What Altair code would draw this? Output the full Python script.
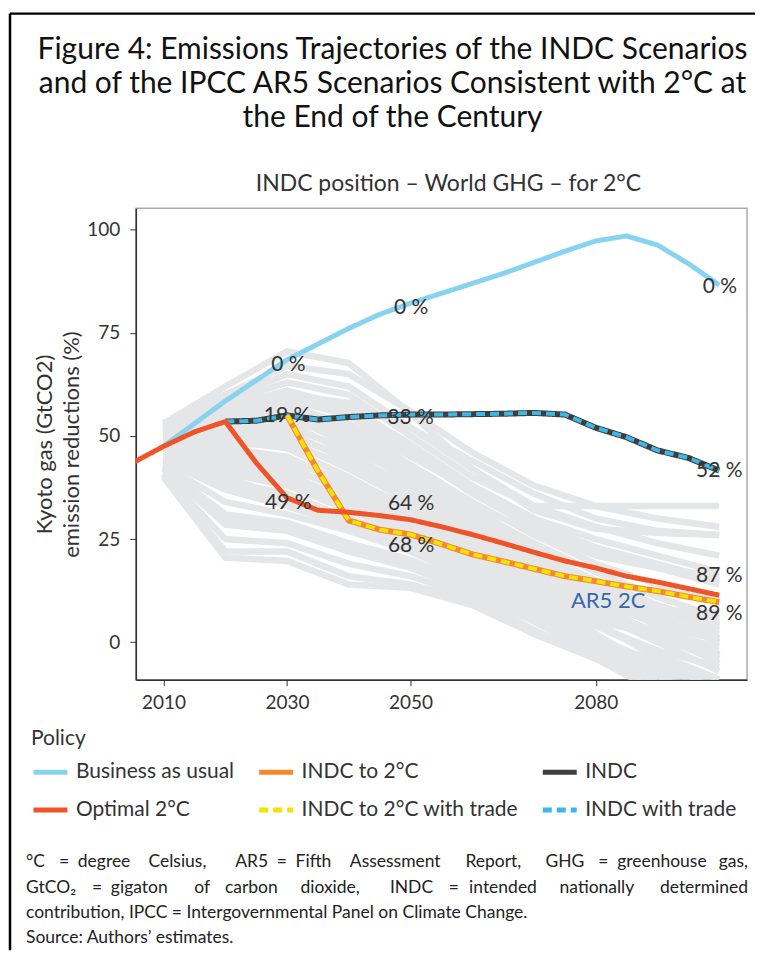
import altair as alt
import pandas as pd

# ---------------- data ----------------
policy_order = ["Business as usual", "INDC to 2°C", "INDC",
                "Optimal 2°C", "INDC to 2°C with trade", "INDC with trade"]
policy_colors = ["#88D3EF", "#F6882E", "#3E3E3E", "#EE5428", "#F2E400", "#3DB8E6"]
policy_dash = [[1, 0], [1, 0], [1, 0], [1, 0], [9, 5], [9, 5]]

bau_years = list(range(2010, 2101, 5))
bau_vals = [47.5, 53, 58.5, 63.5, 68.5, 72.3, 76.1, 79.5, 82.2, 84.6, 87, 89.4,
            92.1, 94.8, 97.3, 98.5, 96.3, 91.8, 86.6]

opt_years = list(range(2005, 2101, 5))
opt_vals = [43.5, 47.5, 51, 53.5, 43.5, 35, 32, 31.5, 30.7, 29.7, 28, 26.1, 24,
            21.8, 19.7, 18, 16, 14.6, 13, 11.4]

indc_years = list(range(2020, 2101, 5))
indc_vals = [53.5, 53.7, 55, 54, 54.6, 55, 55.2, 55.2, 55.3, 55.4, 55.6, 55.2,
             52, 49.7, 46.5, 44.7, 41.6]

indc2_years = list(range(2030, 2101, 5))
indc2_vals = [55, 41.5, 29.5, 27.3, 26.1, 23.8, 21.3, 19.6, 17.8, 16.0, 14.8,
              13.5, 12.4, 11.0, 9.7]

# AR5 2C scenarios (grey band), values at 2010, 2020, ..., 2100
ar5_years = list(range(2010, 2101, 10))
ar5_scenarios = [
    [53, 62, 70.5, 67.7, 55.5, 42, 33, 33, 33, 33],
    [52.5, 60, 67, 65, 56, 46, 38, 33, 30, 28],
    [52, 59, 65, 62, 52, 44, 36, 30, 27, 26],
    [51.5, 58, 63, 60, 50, 40, 33, 28, 24, 21],
    [51, 57, 61, 57, 48, 38, 30, 25, 21, 17],
    [50.5, 56, 59, 55, 46, 36, 28, 22, 18, 14],
    [50, 55, 58, 52, 43, 34, 26, 19, 14, 10],
    [49.5, 54, 56, 50, 41, 32, 24, 17, 11, 6],
    [49, 53, 55, 48, 39, 30, 21, 13, 6, 0],
    [48.5, 52, 53, 46, 37, 28, 19, 11, 4, -3],
    [48, 51, 51, 44, 36, 27, 17, 8, 0, -7],
    [47.5, 50, 49, 42, 34, 25, 15, 5, -4, -12],
    [47, 49, 47, 40, 32, 24, 17, 11, 7, 4],
    [46.5, 47, 45, 38, 31, 22, 13, 4, -3, -9],
    [46, 45, 43, 36, 29, 21, 12, 2, -7, -15],
    [45.5, 43, 41, 34, 28, 20, 14, 9, 5, 2],
    [45, 41, 38, 32, 26, 18, 10, 1, -6, -12],
    [44.5, 39, 36, 30, 25, 17, 9, 0, -8, -16],
    [44, 37, 33, 28, 23, 16, 8, -1, -10, -18],
    [43, 34, 31, 27, 22, 15, 7, -2, -9, -14],
    [42.5, 31, 29, 24, 20, 14, 9, 5, 2, -1],
    [42, 28.5, 27, 22, 18, 12, 5, -3, -11, -19],
    [41, 25, 24, 19, 16, 11, 3, -4, -10, -15],
    [40.5, 22, 22, 16, 14, 10, 2, -4, -12, -20],
    [40, 20.5, 19.7, 14, 13.2, 9, 2, -3.5, -12, -20],
    [51, 58, 60, 58, 52, 42, 32, 27.5, 26.5, 26],
    [49, 54, 57, 53, 45, 37, 29, 23, 19, 15],
    [47, 50, 52, 47, 40, 31, 22, 15, 9, 4],
    [46, 48, 48, 43, 35, 26, 18, 12, 8, 5],
    [45, 44, 42, 37, 30, 23, 16, 10, 5, 1],
    [44, 42, 39, 33, 27, 20, 12, 4, -2, -6],
    [43.5, 40, 35, 29, 24, 18, 11, 6, 3, 1],
    [50, 56, 60, 56, 47, 37, 27, 21, 18, 16],
    [48, 52, 54, 49, 40, 30, 20, 12, 7, 3],
    [47, 49, 50, 45, 38, 29, 19, 9, 2, -5],
    [45, 43, 40, 35, 29, 22, 14, 7, 1, -4],
    [44, 38, 34, 29, 25, 19, 13, 7, 1, -3],
    [42, 30, 28, 23, 19, 13, 6, 1, -5, -10],
    [48.5, 53, 56, 51, 42, 33, 23, 14, 8, 7],
    [46, 46, 44, 39, 33, 25, 16, 7, 0, -2],
]

label_texts = ["0 %", "0 %", "0 %", "19 %", "33 %", "52 %", "49 %", "64 %", "68 %", "87 %", "89 %"]
label_years = [2030.2, 2050.1, 2100.1, 2030, 2050, 2100, 2030.2, 2050.1, 2050.1, 2100, 2100]
label_vals = [67.3, 81.1, 86.2, 54.8, 54.3, 41.4, 33.8, 33.5, 23.3, 16.0, 6.8]

ar5_label = ["AR5 2C"]
ar5_label_year = [2082]
ar5_label_val = [10]

title_lines = ["Figure 4: Emissions Trajectories of the INDC Scenarios",
               "and of the IPCC AR5 Scenarios Consistent with 2°C at",
               "the End of the Century"]
subtitle = "INDC position – World GHG – for 2°C"
y_title = ["Kyoto gas (GtCO2)", "emission reductions (%)"]
x_ticks = [2010, 2030, 2050, 2080]
y_ticks = [0, 25, 50, 75, 100]
footnote = ["°C = degree Celsius, AR5 = Fifth Assessment Report, GHG = greenhouse gas,",
            "GtCO₂ = gigaton of carbon dioxide, INDC = intended nationally determined",
            "contribution, IPCC = Intergovernmental Panel on Climate Change.",
            "Source: Authors’ estimates."]

# ---------------- layout (page pixels, justified note lines) ----------------
FONT = "Lato"
W, H = 612, 472
PLOT_LEFT, PLOT_TOP = 135, 207
X_DOM = [2005.5, 2104.5]
Y_DOM = [-9.1, 105.2]

note_word_starts = [
    [25, 58, 76.9, 147.7, 234.6, 276.1, 295, 349.3, 465, 545.2, 598.1, 617],
    [25, 91.1, 110, 193.5, 224.2, 299.8, 389.4, 448.4, 468.7, 559.3],
]
note_right = 748
note_line_y = [862, 888, 913, 938]
note_left = 25

left_rows, right_rows = [], []
for li, line in enumerate(footnote):
    if li < 2:
        words = line.split(" ")
        for w, px in zip(words[:-1], note_word_starts[li]):
            left_rows.append({"t": w, "px": px, "py": note_line_y[li]})
        right_rows.append({"t": words[-1], "px": note_right, "py": note_line_y[li]})
    else:
        left_rows.append({"t": line, "px": note_left, "py": note_line_y[li]})
note_left_df = pd.DataFrame(left_rows)
note_right_df = pd.DataFrame(right_rows)

# ---------------- tables ----------------
rows = []
for name, ys, vs in [("Business as usual", bau_years, bau_vals),
                     ("Optimal 2°C", opt_years, opt_vals),
                     ("INDC", indc_years, indc_vals),
                     ("INDC with trade", indc_years, indc_vals),
                     ("INDC to 2°C", indc2_years, indc2_vals),
                     ("INDC to 2°C with trade", indc2_years, indc2_vals)]:
    for y, v in zip(ys, vs):
        rows.append({"policy": name, "year": y, "value": v})
pol_df = pd.DataFrame(rows)

grey_rows = []
for i, sc in enumerate(ar5_scenarios):
    for y, v in zip(ar5_years, sc):
        grey_rows.append({"scenario": i, "year": y, "value": v})
grey_df = pd.DataFrame(grey_rows)

lab_df = pd.DataFrame({"label": label_texts, "year": label_years, "value": label_vals})
ar5_df = pd.DataFrame({"label": ar5_label, "year": ar5_label_year, "value": ar5_label_val})

X = alt.X("year:Q", scale=alt.Scale(domain=X_DOM, nice=False, zero=False),
          axis=alt.Axis(values=x_ticks, format="d", title=None, labelPadding=8))
Y = alt.Y("value:Q", scale=alt.Scale(domain=Y_DOM, nice=False, zero=False),
          axis=alt.Axis(values=y_ticks, title=y_title, labelPadding=10, titlePadding=3))

LEG = dict(title="Policy", orient="none", legendX=-105, legendY=520,
           direction="horizontal", columns=3)
COLOR = alt.Color("policy:N", scale=alt.Scale(domain=policy_order, range=policy_colors),
                  legend=alt.Legend(**LEG))
DASH = alt.StrokeDash("policy:N", scale=alt.Scale(domain=policy_order, range=policy_dash),
                      legend=alt.Legend(**LEG))

grey = alt.Chart(grey_df).mark_line(color="#E5E6E7", strokeWidth=6.5, clip=True).encode(
    x=X, y=Y, detail="scenario:N")


def pline(name, width):
    return alt.Chart(pol_df).transform_filter(alt.datum.policy == name).mark_line(
        strokeWidth=width, clip=True).encode(x=X, y=Y, color=COLOR, strokeDash=DASH)


labels = alt.Chart(lab_df).mark_text(font=FONT, fontSize=21, color="#333333").encode(
    x=X, y=Y, text="label:N")
ar5_text = alt.Chart(ar5_df).mark_text(font=FONT, fontSize=22, color="#3767B1").encode(
    x=X, y=Y, text="label:N")

one = pd.DataFrame({"t": [subtitle]})
sub = alt.Chart(one).mark_text(font=FONT, fontSize=23, color="#333333", baseline="middle").encode(
    text="t:N", x=alt.value(W / 2 + 7), y=alt.value(-24))

title_df = pd.DataFrame({"t": ["\n".join(title_lines)]})
title = alt.Chart(title_df).mark_text(font=FONT, fontSize=30, color="#111111", align="center",
                                      baseline="alphabetic", lineBreak="\n", lineHeight=34.5).encode(
    text="t:N", x=alt.value(257), y=alt.value(-150))


def px_to_data(chart):
    return chart.transform_calculate(
        year=f"{X_DOM[0]} + (datum.px - {PLOT_LEFT}) * {(X_DOM[1] - X_DOM[0]) / W}",
        value=f"{Y_DOM[1]} - (datum.py - {PLOT_TOP}) * {(Y_DOM[1] - Y_DOM[0]) / H}",
    )


foot_l = px_to_data(alt.Chart(note_left_df)).mark_text(
    font=FONT, fontSize=17.5, color="#222222", align="left", baseline="middle").encode(
    x=X, y=Y, text="t:N")
foot_r = px_to_data(alt.Chart(note_right_df)).mark_text(
    font=FONT, fontSize=17.5, color="#222222", align="right", baseline="middle").encode(
    x=X, y=Y, text="t:N")

frame_df = pd.DataFrame({"a": [0]})
top_rule = alt.Chart(frame_df).mark_rule(color="black", strokeWidth=2.5).encode(
    x=alt.value(-126), x2=alt.value(620), y=alt.value(-195))
left_rule = alt.Chart(frame_df).mark_rule(color="black", strokeWidth=2.5).encode(
    x=alt.value(-126), y=alt.value(-195), y2=alt.value(743))

chart = alt.layer(
    grey,
    pline("Business as usual", 5),
    pline("INDC", 6),
    pline("INDC with trade", 4),
    pline("INDC to 2°C", 6),
    pline("INDC to 2°C with trade", 4),
    pline("Optimal 2°C", 5),
    labels, ar5_text, sub, title, foot_l, foot_r, top_rule, left_rule,
).properties(
    width=W, height=H,
    padding={"left": 0, "top": 3, "right": 0, "bottom": 0},
).configure_view(stroke="#AAAAAA", strokeWidth=1.5).configure_axis(
    domainColor="#333333", tickColor="#333333", labelColor="#333333", labelFont=FONT,
    labelFontSize=19, titleFont=FONT, titleFontSize=22, titleFontWeight="normal",
    titleColor="#333333", titleLineHeight=27, grid=False, tickSize=6, domainWidth=1.5,
).configure_legend(
    titleFont=FONT, titleFontSize=21, titleFontWeight="normal", titleColor="#333333",
    labelFont=FONT, labelFontSize=21, labelColor="#333333", symbolType="stroke",
    symbolSize=1156, symbolStrokeWidth=5, labelOffset=6, columnPadding=14, rowPadding=8,
    titlePadding=4, labelLimit=400,
)

chart.save("out.html", embed_options={"renderer": "svg", "actions": False})
